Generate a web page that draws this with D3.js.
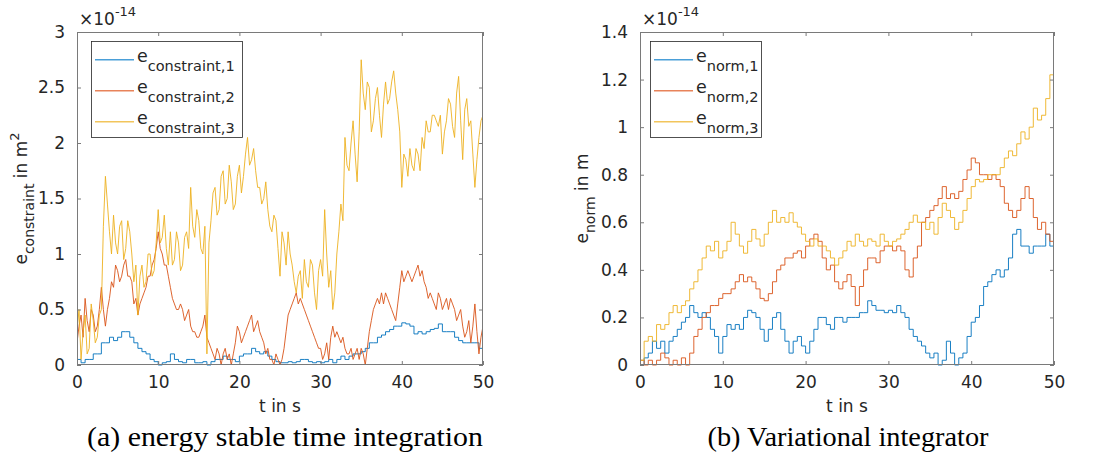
<!DOCTYPE html>
<html>
<head>
<meta charset="utf-8">
<script src="https://d3js.org/d3.v7.min.js"></script>
<style>
  body { margin: 0; background: #fff; }
  text { font-family: "DejaVu Sans", sans-serif; fill: #262626; }
  .caption { font-family: "Liberation Serif", serif; fill: #000; }
</style>
</head>
<body>
<div id="chart"></div>
<script>
// every series is sampled evenly over 0..50 s

// (a) energy stable time integration, values in 1e-14 m^2
const eConstraint1 = [0.05,0.02,0.05,0.05,0.1,0.1,0.2,0.2,0.25,0.22,0.25,0.3,0.3,0.25,0.2,0.15,0.12,0.1,0.05,0.03,
  0.0,0.02,0.03,0.1,0.05,0.03,0.02,0.05,0.05,0.02,0.02,0.03,0.0,0.03,0.05,0.05,0.08,0.05,0.05,0.03,
  0.08,0.1,0.1,0.15,0.12,0.1,0.12,0.08,0.05,0.03,0.02,0.02,0.03,0.02,0.03,0.05,0.05,0.03,0.02,0.03,
  0.02,0.03,0.05,0.02,0.05,0.08,0.05,0.08,0.1,0.1,0.12,0.15,0.2,0.2,0.25,0.27,0.3,0.32,0.35,0.35,
  0.38,0.37,0.35,0.28,0.3,0.28,0.3,0.32,0.33,0.37,0.3,0.3,0.3,0.25,0.22,0.2,0.2,0.2,0.2,0.15,0.25];
const eConstraint2 = [0.2,0.35,0.45,0.25,0.6,0.4,0.3,0.5,0.45,0.3,
  0.35,0.5,0.7,0.5,0.35,0.5,0.6,0.75,0.7,0.9,
  0.85,0.75,0.8,0.9,0.95,0.8,0.8,0.75,0.55,0.6,
  0.45,0.55,0.6,0.65,0.7,0.8,0.8,0.9,0.95,1.05,
  1.2,1.05,1.0,0.9,0.9,0.8,0.7,0.6,0.55,0.5,
  0.5,0.55,0.5,0.4,0.45,0.5,0.35,0.3,0.3,0.25,
  0.25,0.3,0.35,0.45,0.25,0.2,0.15,0.1,0.05,0.15,
  0.1,0.0,0.1,0.15,0.05,0.1,0.0,0.1,0.2,0.35,
  0.3,0.2,0.25,0.3,0.35,0.4,0.45,0.3,0.35,0.4,
  0.3,0.25,0.2,0.1,0.15,0.05,0.05,0.0,0.1,0.05,
  0.0,0.05,0.15,0.3,0.45,0.5,0.55,0.6,0.65,0.55,
  0.6,0.55,0.5,0.45,0.4,0.35,0.3,0.25,0.2,0.15,
  0.15,0.05,0.1,0.2,0.05,0.25,0.35,0.25,0.3,0.25,
  0.2,0.25,0.15,0.1,0.1,0.15,0.05,0.1,0.15,0.05,
  0.15,0.1,0.0,0.15,0.3,0.4,0.5,0.55,0.6,0.55,
  0.65,0.55,0.65,0.6,0.55,0.5,0.45,0.4,0.55,0.7,
  0.85,0.75,0.8,0.85,0.8,0.75,0.8,0.85,0.9,0.8,
  0.85,0.75,0.7,0.6,0.65,0.6,0.55,0.5,0.65,0.6,
  0.5,0.55,0.6,0.5,0.6,0.55,0.5,0.4,0.45,0.5,
  0.35,0.25,0.3,0.4,0.2,0.35,0.55,0.3,0.1,0.25,
  0.35];
const eConstraint3 = [0.3,0.5,0.05,0.3,0.45,0.1,0.15,0.55,0.4,0.2,
  0.25,0.45,0.5,1.25,1.7,1.45,1.2,1.0,1.35,1.1,
  1.0,1.25,1.3,0.95,1.05,1.3,1.2,1.0,0.75,0.9,
  0.45,0.8,0.9,0.7,0.75,1.0,1.0,0.8,0.85,1.1,
  1.4,1.1,1.15,1.35,1.05,0.9,1.2,0.9,0.95,1.2,
  1.1,0.85,0.9,1.15,1.2,1.05,1.6,1.25,1.15,1.4,
  1.3,1.05,1.0,1.25,0.1,1.1,1.3,1.55,1.6,1.35,
  1.4,1.7,1.75,1.45,1.5,1.8,1.65,1.4,1.45,1.7,
  1.8,1.55,1.7,1.9,2.05,1.8,1.85,1.95,1.75,1.6,
  1.6,1.45,1.5,1.65,1.4,1.25,1.2,1.35,1.3,1.05,
  0.8,1.2,1.1,0.9,1.2,1.0,0.9,0.75,0.65,0.8,
  0.85,0.6,0.95,0.75,0.7,0.95,0.9,0.65,0.5,0.85,
  0.95,0.8,1.4,1.0,0.7,0.85,0.5,0.65,1.0,1.2,
  1.45,1.3,2.05,1.8,1.75,2.0,2.2,1.9,1.65,2.1,
  2.75,2.45,2.3,2.55,2.5,2.1,2.2,2.4,2.5,2.25,
  2.05,2.35,2.55,2.35,2.4,2.55,2.65,2.45,2.3,2.1,
  1.6,1.9,1.85,1.7,1.95,1.8,1.75,1.95,1.9,1.75,
  2.05,1.95,2.2,2.1,2.1,2.25,2.25,2.2,2.15,2.25,
  1.9,2.1,2.2,2.4,2.35,2.15,2.05,2.45,2.6,2.2,
  1.85,2.3,2.4,2.15,2.2,1.9,1.6,1.85,2.05,2.2,
  2.25];

// (b) variational integrator, values in 1e-14 m
const eNorm1 = [0.0,0.03,0.05,0.1,0.07,0.1,0.05,0.1,0.12,0.15,0.18,0.2,0.25,0.22,0.2,0.22,0.2,0.15,0.12,0.05,
  0.12,0.17,0.15,0.17,0.15,0.2,0.23,0.22,0.2,0.15,0.1,0.15,0.2,0.22,0.15,0.1,0.05,0.1,0.12,0.08,
  0.05,0.1,0.15,0.2,0.2,0.17,0.15,0.2,0.2,0.18,0.2,0.2,0.2,0.22,0.22,0.27,0.25,0.23,0.23,0.22,
  0.23,0.22,0.25,0.22,0.2,0.15,0.12,0.1,0.08,0.05,0.03,0.05,0.0,0.02,0.1,0.05,0.0,0.03,0.05,0.12,
  0.18,0.2,0.25,0.33,0.35,0.38,0.4,0.37,0.4,0.45,0.55,0.57,0.5,0.5,0.47,0.5,0.5,0.5,0.55,0.5,0.45];
const eNorm2 = [0.02,0.0,0.02,0.0,0.02,0.05,0.03,0.0,0.02,0.0,0.03,0.0,0.05,0.12,0.15,0.2,0.22,0.25,0.25,0.28,
  0.3,0.3,0.32,0.35,0.38,0.35,0.37,0.35,0.32,0.28,0.27,0.3,0.35,0.4,0.42,0.45,0.45,0.47,0.48,0.45,
  0.5,0.53,0.55,0.52,0.45,0.4,0.42,0.35,0.32,0.35,0.38,0.33,0.25,0.33,0.4,0.45,0.45,0.43,0.48,0.5,
  0.5,0.48,0.5,0.48,0.4,0.37,0.45,0.5,0.6,0.62,0.65,0.67,0.7,0.75,0.7,0.72,0.7,0.73,0.78,0.82,
  0.87,0.85,0.8,0.8,0.78,0.8,0.78,0.75,0.68,0.65,0.62,0.65,0.7,0.75,0.7,0.62,0.57,0.6,0.55,0.52,0.52];
const eNorm3 = [0.02,0.1,0.12,0.1,0.17,0.15,0.17,0.22,0.25,0.22,0.25,0.27,0.32,0.35,0.4,0.45,0.5,0.48,0.52,0.45,
  0.48,0.52,0.6,0.55,0.5,0.47,0.52,0.57,0.53,0.5,0.55,0.6,0.65,0.6,0.62,0.6,0.64,0.6,0.58,0.55,
  0.52,0.5,0.53,0.5,0.5,0.48,0.45,0.42,0.45,0.48,0.52,0.5,0.55,0.52,0.5,0.53,0.52,0.5,0.55,0.52,
  0.5,0.52,0.53,0.55,0.57,0.6,0.63,0.6,0.6,0.57,0.6,0.55,0.62,0.68,0.65,0.62,0.57,0.6,0.65,0.7,
  0.75,0.78,0.77,0.78,0.8,0.8,0.8,0.83,0.87,0.9,0.88,0.93,0.98,0.95,1.0,1.08,1.03,1.05,1.12,1.22,1.2];

const xTicks = [0, 10, 20, 30, 40, 50];
const yTicksA = [0, 0.5, 1, 1.5, 2, 2.5, 3];
const yTicksB = [0, 0.2, 0.4, 0.6, 0.8, 1, 1.2, 1.4];
const colors = ["#0072BD", "#D95319", "#EDB120"];
const legendColors = ["#4a9fd8", "#e8835a", "#f2c55c"];   // sample lines in the legend are drawn thin, so they read lighter

const W = 1094, H = 459;
const svg = d3.select("#chart").append("svg")
  .attr("width", W).attr("height", H);

function panel(opt) {
  const x = d3.scaleLinear().domain([0, 50]).range([opt.left, opt.right]);
  const y = d3.scaleLinear().domain(opt.yDomain).range([365, 32]);
  const g = svg.append("g");

  const clipId = "clip-" + opt.id;
  svg.append("clipPath").attr("id", clipId).append("rect")
    .attr("x", opt.left).attr("y", 31).attr("width", opt.right - opt.left).attr("height", 335);

  // series
  opt.series.forEach((s, k) => {
    const line = d3.line()
      .x((d, i) => x(i * 50 / (s.length - 1)))
      .y(d => y(d))
      .curve(opt.curves[k]);
    g.append("path")
      .attr("clip-path", `url(#${clipId})`)
      .attr("d", line(s))
      .attr("fill", "none")
      .attr("stroke", colors[k])
      .attr("stroke-width", 0.9)
      .attr("stroke-linejoin", "round");
  });

  // axes, ticks pointing inward
  const fmt = d => d3.format("~g")(d);
  g.append("g").attr("transform", "translate(0,365)")
    .call(d3.axisBottom(x).tickValues(xTicks).tickSize(-4).tickPadding(11).tickFormat(fmt));
  g.append("g").attr("transform", "translate(0,32)")
    .call(d3.axisTop(x).tickValues(xTicks).tickSize(-4).tickFormat(""));
  g.append("g").attr("transform", `translate(${opt.left},0)`)
    .call(d3.axisLeft(y).tickValues(opt.yTicks).tickSize(-4).tickPadding(12).tickFormat(fmt));
  g.append("g").attr("transform", `translate(${opt.right},0)`)
    .call(d3.axisRight(y).tickValues(opt.yTicks).tickSize(-4).tickFormat(""));
  g.selectAll(".domain").remove();
  g.selectAll(".tick line").attr("stroke", "#7a7a7a");
  g.selectAll(".tick text").attr("font-size", 17).attr("font-family", "DejaVu Sans").attr("fill", "#262626");

  g.append("rect")
    .attr("x", opt.left + 0.5).attr("y", 32.5)
    .attr("width", opt.right - opt.left - 1).attr("height", 332)
    .attr("fill", "none").attr("stroke", "#7a7a7a").attr("stroke-width", 1);

  // exponent label
  const ex = g.append("text").attr("x", opt.left + 2).attr("y", 25).attr("font-size", 17);
  ex.append("tspan").text("\u00d710");
  ex.append("tspan").attr("dy", -9).attr("font-size", 13).text("-14");

  // x label
  g.append("text").attr("x", (opt.left + opt.right) / 2).attr("y", 412)
    .attr("text-anchor", "middle").attr("font-size", 17).text("t in s");

  // y label
  const yl = g.append("text")
    .attr("transform", `translate(${opt.yLabX},${(32 + 365) / 2}) rotate(-90)`)
    .attr("text-anchor", "middle").attr("font-size", 17);
  yl.append("tspan").text("e");
  yl.append("tspan").attr("dy", 7).attr("font-size", 14).text(opt.sub);
  yl.append("tspan").attr("dy", -7).text(" in " + opt.unit);
  if (opt.sup) yl.append("tspan").attr("dy", -8).attr("font-size", 13).text(opt.sup);

  // legend
  const lg = svg.append("g").attr("class", "legend");
  lg.append("rect")
    .attr("x", opt.legX + 0.5).attr("y", 41.5)
    .attr("width", opt.legW).attr("height", 96)
    .attr("fill", "#fff").attr("stroke", "#262626").attr("stroke-width", 0.8);
  opt.series.forEach((s, k) => {
    const ly = 59 + k * 31;
    lg.append("rect")
      .attr("x", opt.legX + 4).attr("y", ly)
      .attr("width", 39).attr("height", 1.5)
      .attr("fill", legendColors[k]);
    const t = lg.append("text").attr("x", opt.legX + 46).attr("y", ly + 3).attr("font-size", 17.5);
    t.append("tspan").text("e");
    t.append("tspan").attr("dy", 8.5).attr("font-size", 14.5).text(opt.sub + "," + (k + 1));
  });

  // caption
  svg.append("text").attr("class", "caption")
    .attr("x", opt.capX).attr("y", 446)
    .attr("text-anchor", "middle").attr("font-size", 28)
    .attr("textLength", opt.capW).attr("lengthAdjust", "spacingAndGlyphs")
    .text(opt.caption);
}

panel({
  id: "a", left: 77, right: 483, yDomain: [0, 3], yTicks: yTicksA,
  series: [eConstraint1, eConstraint2, eConstraint3],
  curves: [d3.curveStepAfter, d3.curveLinear, d3.curveLinear],
  sub: "constraint", unit: "m", sup: "2", yLabX: 27,
  legX: 91, legW: 151, capX: 285, capW: 396,
  caption: "(a) energy stable time integration"
});

panel({
  id: "b", left: 640, right: 1054, yDomain: [0, 1.4], yTicks: yTicksB,
  series: [eNorm1, eNorm2, eNorm3],
  curves: [d3.curveStepAfter, d3.curveStepAfter, d3.curveStepAfter],
  sub: "norm", unit: "m", sup: null, yLabX: 588,
  legX: 650, legW: 111, capX: 848, capW: 281,
  caption: "(b) Variational integrator"
});
</script>
</body>
</html>
